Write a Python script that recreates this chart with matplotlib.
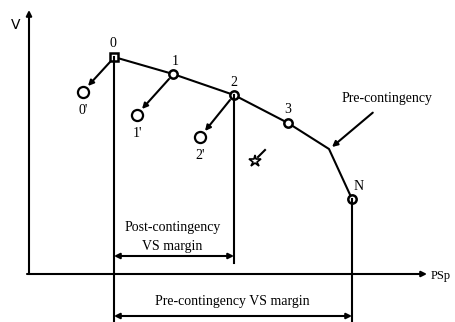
import matplotlib.pyplot as plt
from matplotlib import rcParams

rcParams.update({"font.family": ["Liberation Serif", "DejaVu Serif"], "font.size": 10})

# operating points on the pre-contingency P-V curve (image units, y down)
pre_labels = ['0', '1', '2', '3', 'N']
pre_x = [114, 173, 234, 288, 352]
pre_y = [57, 74, 95, 123, 199]
knee_x, knee_y = 329, 149      # bend of the curve, no marker

# post-contingency points
post_labels = ["0'", "1'", "2'"]
post_x = [83, 137, 200]
post_y = [92, 115, 137]
star_x, star_y = 255, 161

axis_origin = (29, 274)
x_end = 427
y_top = 10
post_margin_y = 256
pre_margin_y = 316

fig = plt.figure(figsize=(4.56, 3.22), dpi=100)
ax = fig.add_axes([0, 0, 1, 1])
ax.set_xlim(0, 456)
ax.set_ylim(322, 0)
ax.axis('off')

lw = 1.5
arr = dict(arrowstyle='-|>', color='k', lw=lw, mutation_scale=8, shrinkA=0, shrinkB=0)

# axes
ax.annotate('', xy=(axis_origin[0], y_top), xytext=axis_origin, arrowprops=arr)
ax.annotate('', xy=(x_end, axis_origin[1]), xytext=(axis_origin[0] - 2, axis_origin[1]), arrowprops=arr)
ax.text(16, 25, 'V', ha='center', va='center', fontsize=10, family='DejaVu Sans')
ax.text(431, 276, 'PSp', ha='left', va='center', fontsize=9)

# pre-contingency curve
cx = pre_x[:4] + [knee_x] + [pre_x[4]]
cy = pre_y[:4] + [knee_y] + [pre_y[4]]
ax.plot(cx, cy, color='k', lw=lw)
ax.plot(pre_x[0], pre_y[0], marker='s', ms=6, mfc='white', mec='k', mew=1.8)
ax.plot(pre_x[1:], pre_y[1:], ls='none', marker='o', ms=6, mfc='white', mec='k', mew=1.8)
lab_dx = [-1, 2, 0, 0, 7]
lab_dy = [-14, -13, -13, -14, -13]
for i, t in enumerate(pre_labels):
    ax.text(pre_x[i] + lab_dx[i], pre_y[i] + lab_dy[i], t, ha='center', va='center', fontsize=10)

# post-contingency points, arrows from each pre point
ax.plot(post_x, post_y, ls='none', marker='o', ms=8, mfc='white', mec='k', mew=1.6)
for i, t in enumerate(post_labels):
    ax.annotate('', xy=(post_x[i] + 5, post_y[i] - 6), xytext=(pre_x[i] - 4, pre_y[i] + 5),
                arrowprops=arr)
    ax.text(post_x[i], post_y[i] + 18, t, ha='center', va='center', fontsize=10)
ax.plot(star_x, star_y, marker='*', ms=9, mfc='white', mec='k', mew=1.2)
ax.plot([star_x + 3, star_x + 10], [star_y - 4, star_y - 11], color='k', lw=lw)

# vertical guide lines
ax.plot([pre_x[0]] * 2, [pre_y[0], 322], color='k', lw=lw)
ax.plot([pre_x[2]] * 2, [pre_y[2], 263], color='k', lw=lw)
ax.plot([pre_x[4]] * 2, [pre_y[4], 322], color='k', lw=lw)

# margins
dbl = dict(arrowstyle='<|-|>', color='k', lw=lw, mutation_scale=8, shrinkA=0, shrinkB=0)
ax.annotate('', xy=(pre_x[0], post_margin_y), xytext=(pre_x[2], post_margin_y), arrowprops=dbl)
ax.text(173, 227, 'Post-contingency', ha='center', va='center', fontsize=10)
ax.text(172, 246, 'VS margin', ha='center', va='center', fontsize=10)
ax.annotate('', xy=(pre_x[0], pre_margin_y), xytext=(pre_x[4], pre_margin_y), arrowprops=dbl)
ax.text(232, 302, 'Pre-contingency VS margin', ha='center', va='center', fontsize=10)

# curve label
ax.annotate('Pre-contingency', xy=(knee_x + 3, knee_y - 2), xytext=(387, 98),
            ha='center', va='center', fontsize=10,
            arrowprops=dict(arrowstyle='-|>', color='k', lw=lw, mutation_scale=8,
                            shrinkA=6, shrinkB=0, relpos=(0.45, 0)))

plt.savefig('out.png', dpi=100)
